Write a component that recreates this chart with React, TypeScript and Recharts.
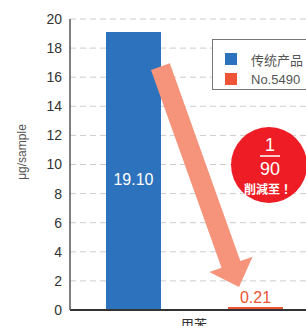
import React from 'react';
import { BarChart, Bar, XAxis, YAxis, CartesianGrid, Legend, LabelList } from 'recharts';

const categories = ['甲苯'];
const traditional = [19.1];
const no5490 = [0.21];
const yTicks = [0, 2, 4, 6, 8, 10, 12, 14, 16, 18, 20];
const seriesNames = ['传统产品', 'No.5490'];
const badgeTop = '1';
const badgeBottom = '90';
const badgeText = '削減至！';

const data = categories.map((c, i) => ({ name: c, a: traditional[i], b: no5490[i] }));

const FONT = '"Liberation Sans", Arial, "Noto Sans CJK SC", sans-serif';
const BLUE = '#2D72BC';
const RED = '#EE5436';

const LegendBox = (props: any) => {
  const payload = [...(props.payload || [])].sort(
    (p: any, q: any) => seriesNames.indexOf(p.value) - seriesNames.indexOf(q.value)
  );
  return (
    <div style={{ border: '1.5px solid #777', background: '#fff', width: 96, height: 51, padding: '9px 0 0 12px', boxSizing: 'border-box', fontFamily: FONT }}>
      {payload.map((p: any, i: number) => (
        <div key={i} style={{ display: 'flex', alignItems: 'center', height: 20, fontSize: 13, color: '#555' }}>
          <span style={{ width: 12, height: 12, background: p.color, display: 'inline-block', marginRight: 14 }} />
          <span>{p.value}</span>
        </div>
      ))}
    </div>
  );
};

const BlueLabel = (props: any) => {
  const { x, y, width, height, value } = props;
  return (
    <text x={x + width / 2} y={y + height / 2 + 8} fill="#fff" fontSize={16} fontFamily={FONT} textAnchor="middle" dominantBaseline="central">
      {Number(value).toFixed(2)}
    </text>
  );
};

const RedLabel = (props: any) => {
  const { x, y, width, value } = props;
  return (
    <text x={x + width / 2} y={y - 4} fill={RED} fontSize={16} fontFamily={FONT} textAnchor="middle">
      {Number(value).toFixed(2)}
    </text>
  );
};

const YLabel = () => {
  const cx = 22;
  const cy = 152;
  return (
    <text x={cx} y={cy} transform={`rotate(-90 ${cx} ${cy})`} textAnchor="middle" dominantBaseline="central" fontSize={12} fill="#555" fontFamily={FONT}>
      μg/sample
    </text>
  );
};

export default function App() {
  const start = { x: 160.4, y: 66.7 };
  const tip = { x: 239, y: 287 };
  const dx = tip.x - start.x, dy = tip.y - start.y;
  const L = Math.sqrt(dx * dx + dy * dy);
  const u = { x: dx / L, y: dy / L };
  const n = { x: u.y, y: -u.x };
  const headLen = 24, shaftHalf = 10, headHalf = 23;
  const base = { x: tip.x - headLen * u.x, y: tip.y - headLen * u.y };
  const pts = [
    [start.x - shaftHalf * n.x, start.y - shaftHalf * n.y],
    [start.x + shaftHalf * n.x, start.y + shaftHalf * n.y],
    [base.x + shaftHalf * n.x, base.y + shaftHalf * n.y],
    [base.x + headHalf * n.x, base.y + headHalf * n.y],
    [tip.x, tip.y],
    [base.x - headHalf * n.x, base.y - headHalf * n.y],
    [base.x - shaftHalf * n.x, base.y - shaftHalf * n.y],
  ].map((p) => p.join(',')).join(' ');

  return (
    <div style={{ position: 'absolute', left: 0, top: 0, width: 306, height: 326, overflow: 'hidden', background: '#fff' }}>
      <BarChart width={320} height={340} data={data} margin={{ top: 19, right: 2, bottom: 0, left: 0 }} barSize={55} barGap={67}>
        <CartesianGrid vertical={false} stroke="#ccc" strokeDasharray="6 4" />
        <XAxis dataKey="name" tickLine={false} tickMargin={4} axisLine={{ stroke: '#333', strokeWidth: 2 }} tick={{ fontSize: 13, fill: '#333', fontFamily: FONT }} height={30} />
        <YAxis domain={[0, 20]} ticks={yTicks} interval={0} tickLine={false} axisLine={{ stroke: '#555', strokeWidth: 1.5 }} tick={{ fontSize: 14, fill: '#333', fontFamily: FONT }} width={70} label={<YLabel />} />
        <Legend layout="vertical" align="center" verticalAlign="middle" wrapperStyle={{ top: 39, left: 212, width: 96 }} content={<LegendBox />} />
        <Bar dataKey="a" name={seriesNames[0]} fill={BLUE} isAnimationActive={false}>
          <LabelList dataKey="a" content={<BlueLabel />} />
        </Bar>
        <Bar dataKey="b" name={seriesNames[1]} fill={RED} isAnimationActive={false}>
          <LabelList dataKey="b" content={<RedLabel />} />
        </Bar>
      </BarChart>
      <svg width={306} height={326} style={{ position: 'absolute', left: 0, top: 0, pointerEvents: 'none' }}>
        <polygon points={pts} fill="#F5937B" />
        <circle cx={269} cy={165} r={38} fill="#EE1D25" />
        <text x={270} y={145} fill="#fff" fontSize={18} fontFamily={FONT} textAnchor="middle" dominantBaseline="central">{badgeTop}</text>
        <line x1={260} x2={280} y1={156} y2={156} stroke="#fff" strokeWidth={1.5} />
        <text x={270} y={169} fill="#fff" fontSize={18} fontFamily={FONT} textAnchor="middle" dominantBaseline="central">{badgeBottom}</text>
        <text x={268} y={188} fill="#fff" fontSize={12} fontWeight="bold" fontFamily={'"Noto Sans CJK JP", sans-serif'} textAnchor="middle" dominantBaseline="central">{badgeText}</text>
      </svg>
    </div>
  );
}
